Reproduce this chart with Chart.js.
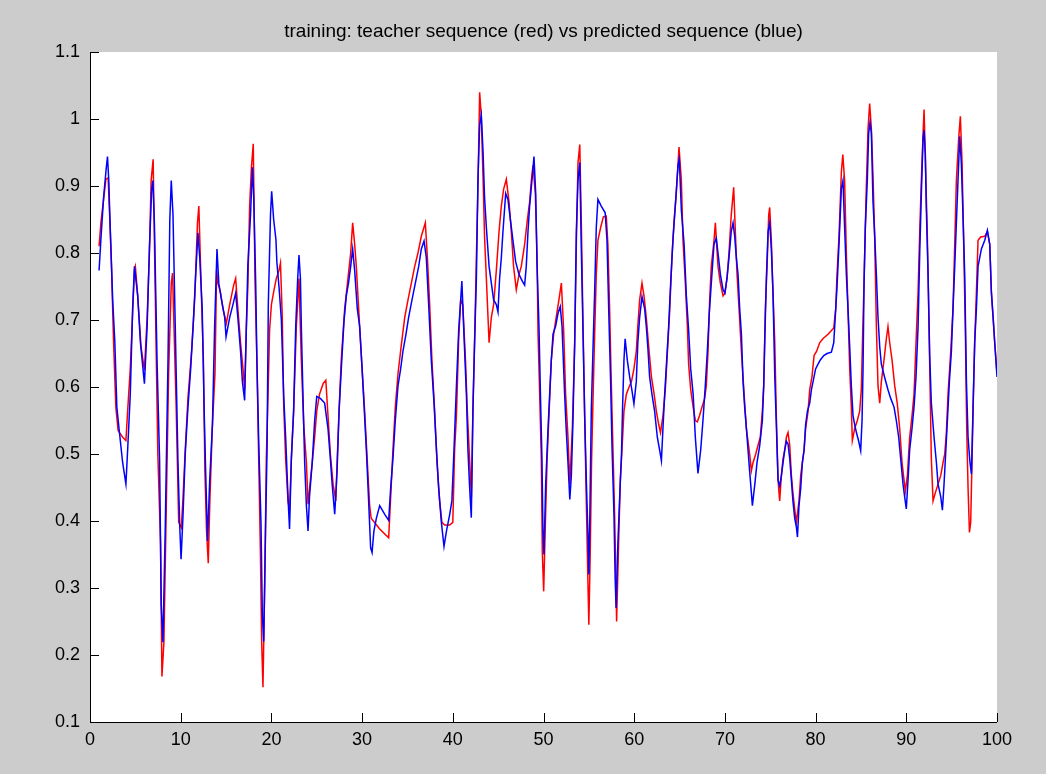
<!DOCTYPE html>
<html><head><meta charset="utf-8">
<script src="https://cdn.jsdelivr.net/npm/chart.js@4.4.1/dist/chart.umd.min.js"></script>
<style>html,body{margin:0;padding:0;background:#cccccc;overflow:hidden}#wrap{width:1046px;height:774px}</style>
</head><body><div id="wrap"><canvas id="c" width="1046" height="774"></canvas></div>
<script>
const chartTitle = "training: teacher sequence (red) vs predicted sequence (blue)";
const xTicks = [0,10,20,30,40,50,60,70,80,90,100];
const yTicks = [0.1,0.2,0.3,0.4,0.5,0.6,0.7,0.8,0.9,1.0,1.1];
const yTickLabels = ["0.1","0.2","0.3","0.4","0.5","0.6","0.7","0.8","0.9","1","1.1"];

// teacher sequence (red)
const teacherX = [1,1.2,1.5,1.75,2,2.2,2.37,2.6,2.85,3.1,3.6,3.96,4.15,4.44,4.7,4.9,5,5.26,5.63,6,6.3,6.55,6.74,6.96,7.2,7.48,7.78,7.93,8.15,8.4,8.67,8.96,9.1,9.26,9.5,9.78,10.07,10.26,10.5,10.8,11.2,11.56,11.85,12,12.3,12.5,12.67,12.85,13.04,13.2,13.48,13.78,13.96,14.1,14.37,14.66,15.03,15.4,15.84,16.06,16.3,16.6,16.87,17.05,17.24,17.4,17.6,17.8,18,18.2,18.4,18.6,18.78,18.93,19.07,19.26,19.44,19.63,19.8,20,20.25,20.54,20.84,21,21.2,21.35,21.57,21.83,22,22.2,22.45,22.75,23.04,23.3,23.56,23.86,24.04,24.3,24.5,24.77,25,25.3,25.7,26,26.24,26.5,26.8,27.1,27.24,27.46,27.7,28.08,28.44,28.74,28.96,29.18,29.36,29.62,30,30.28,30.58,30.83,31,31.94,32.93,33.15,33.4,33.66,33.96,34.3,34.7,35.06,35.43,35.8,36.16,36.53,36.97,37.2,37.45,37.7,38,38.26,38.55,38.8,39.1,39.66,40,40.2,40.4,40.65,40.87,41.1,41.4,41.6,42.05,42.22,42.4,42.6,42.77,42.96,43.14,43.33,43.5,43.7,43.9,44,44.25,44.5,44.8,45.1,45.35,45.6,45.9,46.2,46.45,46.7,47,47.3,47.55,47.92,48.18,48.47,48.66,48.84,49.1,49.28,49.4,49.58,49.76,49.87,50.02,50.17,50.4,50.6,50.86,51.12,51.4,51.7,51.97,52.22,52.44,52.7,52.9,53.18,53.44,53.62,53.8,54,54.17,54.36,54.54,54.72,54.9,55,55.15,55.3,55.45,55.64,55.82,56,56.3,56.6,56.92,57.1,57.3,57.47,57.66,57.84,58,58.06,58.28,58.47,58.65,58.87,59.13,59.4,59.7,59.97,60.23,60.4,60.6,60.86,61.08,61.33,61.6,61.9,62.2,62.44,62.7,62.9,63.17,63.43,63.72,63.9,64.16,64.38,64.64,64.94,65.2,65.38,65.64,65.86,66,66.23,66.5,66.74,66.96,67.2,67.47,67.77,67.95,68.14,68.32,68.5,68.8,68.95,69.06,69.24,69.5,69.8,70,70.23,70.45,70.7,70.97,71.15,71.34,71.56,71.82,72,72.18,72.37,72.55,72.73,72.92,73.1,73.4,73.65,73.9,74.13,74.28,74.46,74.65,74.83,74.94,75.12,75.3,75.5,75.67,75.86,76.04,76.23,76.41,76.6,76.78,76.96,77.15,77.33,77.5,77.7,77.88,78.17,78.36,78.54,78.73,78.9,79.17,79.35,79.6,79.83,80.1,80.45,80.8,81.4,82,82.22,82.36,82.58,82.84,83,83.2,83.39,83.57,83.76,83.94,84.05,84.31,84.6,84.86,85.04,85.19,85.34,85.56,85.78,85.96,86.15,86.33,86.52,86.7,86.88,87.07,87.25,87.54,87.8,87.98,88.17,88.43,88.72,89,89.27,89.53,89.75,89.9,90.12,90.37,90.63,90.85,91.11,91.3,91.48,91.66,91.85,91.96,92.1,92.32,92.47,92.62,92.76,92.95,93.2,93.5,93.8,94.05,94.24,94.42,94.6,94.9,95.15,95.34,95.52,95.78,95.96,96.15,96.33,96.51,96.66,96.81,96.96,97.1,97.25,97.4,97.54,97.73,97.91,98.2,98.65,98.94,99.2,99.38,99.57,99.75,100];
const teacherY = [0.81,0.845,0.88,0.91,0.912,0.845,0.78,0.666,0.57,0.535,0.525,0.52,0.564,0.627,0.71,0.775,0.78,0.736,0.66,0.625,0.704,0.8,0.908,0.94,0.736,0.5,0.366,0.168,0.219,0.414,0.621,0.755,0.77,0.69,0.57,0.398,0.39,0.436,0.506,0.583,0.653,0.736,0.845,0.87,0.73,0.64,0.474,0.385,0.337,0.423,0.538,0.62,0.775,0.755,0.742,0.717,0.695,0.723,0.752,0.762,0.717,0.666,0.627,0.596,0.69,0.749,0.87,0.928,0.963,0.755,0.64,0.493,0.36,0.219,0.152,0.302,0.493,0.589,0.685,0.723,0.742,0.762,0.774,0.785,0.704,0.576,0.493,0.43,0.415,0.493,0.564,0.69,0.762,0.64,0.544,0.487,0.425,0.461,0.487,0.525,0.564,0.589,0.605,0.61,0.557,0.5,0.455,0.43,0.487,0.564,0.64,0.717,0.762,0.8,0.845,0.813,0.78,0.717,0.627,0.564,0.487,0.423,0.404,0.388,0.375,0.436,0.506,0.57,0.62,0.66,0.704,0.73,0.755,0.78,0.8,0.825,0.845,0.793,0.723,0.64,0.564,0.487,0.43,0.398,0.394,0.394,0.398,0.506,0.557,0.672,0.73,0.723,0.64,0.564,0.435,0.57,0.666,0.793,0.896,1.04,1.004,0.915,0.825,0.762,0.698,0.666,0.704,0.723,0.774,0.832,0.87,0.895,0.91,0.876,0.832,0.78,0.745,0.768,0.78,0.813,0.845,0.876,0.908,0.931,0.889,0.8,0.679,0.589,0.493,0.353,0.295,0.378,0.493,0.557,0.64,0.679,0.704,0.73,0.755,0.685,0.589,0.525,0.455,0.538,0.666,0.813,0.934,0.962,0.845,0.691,0.557,0.43,0.308,0.245,0.35,0.49,0.576,0.679,0.768,0.819,0.838,0.854,0.855,0.813,0.71,0.608,0.506,0.41,0.302,0.25,0.366,0.461,0.506,0.564,0.589,0.599,0.608,0.627,0.653,0.691,0.73,0.755,0.736,0.704,0.66,0.615,0.589,0.564,0.544,0.532,0.557,0.596,0.666,0.71,0.793,0.845,0.889,0.958,0.908,0.819,0.755,0.691,0.634,0.596,0.57,0.55,0.548,0.557,0.57,0.583,0.602,0.653,0.73,0.78,0.819,0.845,0.819,0.78,0.755,0.736,0.74,0.762,0.8,0.857,0.898,0.832,0.768,0.717,0.653,0.615,0.576,0.538,0.519,0.5,0.475,0.487,0.5,0.513,0.525,0.564,0.602,0.717,0.78,0.857,0.868,0.819,0.742,0.666,0.557,0.461,0.43,0.468,0.493,0.506,0.525,0.532,0.513,0.468,0.442,0.417,0.398,0.43,0.468,0.487,0.506,0.538,0.564,0.596,0.615,0.647,0.653,0.666,0.672,0.679,0.688,0.717,0.768,0.825,0.921,0.947,0.908,0.8,0.717,0.627,0.57,0.52,0.538,0.55,0.564,0.596,0.679,0.755,0.883,0.985,1.023,0.985,0.915,0.819,0.691,0.602,0.576,0.608,0.64,0.672,0.69,0.666,0.64,0.602,0.576,0.538,0.487,0.461,0.445,0.468,0.525,0.557,0.589,0.679,0.742,0.832,0.908,0.979,1.014,0.94,0.825,0.717,0.602,0.493,0.43,0.442,0.455,0.468,0.487,0.5,0.532,0.589,0.653,0.717,0.813,0.908,0.972,1.004,0.934,0.813,0.685,0.538,0.449,0.383,0.398,0.493,0.589,0.666,0.742,0.819,0.824,0.825,0.832,0.813,0.742,0.704,0.666,0.62];

// predicted sequence (blue)
const predictedX = [1,1.2,1.5,1.8,1.93,2.07,2.2,2.5,2.74,2.96,3.2,3.6,3.96,4.15,4.44,4.7,4.9,5.26,5.56,6,6.3,6.55,6.8,6.93,7.1,7.4,7.67,7.85,8.04,8.3,8.6,8.8,8.96,9.15,9.4,9.7,9.9,10.04,10.26,10.5,10.8,11.1,11.4,11.63,11.9,12.1,12.37,12.6,12.74,12.96,13.2,13.5,13.74,14,14.2,14.5,14.85,15,15.4,15.76,16.06,16.3,16.6,16.8,17.05,17.24,17.4,17.7,17.9,18.05,18.27,18.4,18.6,18.85,19,19.15,19.37,19.52,19.66,19.9,20.03,20.25,20.5,20.6,20.84,21.1,21.35,21.57,21.83,22,22.2,22.45,22.68,22.9,23.04,23.2,23.3,23.5,23.67,23.86,24.04,24.2,24.5,24.77,25,25.4,25.87,26.24,26.5,26.7,26.98,27.24,27.46,27.7,28,28.26,28.5,28.74,28.96,29.18,29.47,29.73,30,30.2,30.47,30.72,30.94,31.1,31.3,31.57,31.94,32.5,32.93,33.15,33.4,33.66,33.96,34.25,34.5,34.84,35.13,35.5,35.87,36.24,36.53,36.83,37.08,37.34,37.63,37.93,38.2,38.44,38.74,39.03,39.3,39.66,39.9,40.13,40.4,40.65,40.87,41,41.24,41.5,41.67,41.86,42.04,42.22,42.4,42.6,42.77,42.96,43.14,43.33,43.5,43.7,44,44.25,44.5,44.8,44.98,45.16,45.35,45.53,45.83,46.08,46.34,46.63,46.93,47.3,47.66,47.92,48.1,48.29,48.47,48.77,48.95,49.14,49.28,49.5,49.65,49.83,49.94,50.05,50.24,50.5,50.68,50.86,51.05,51.34,51.6,51.85,52.04,52.15,52.33,52.5,52.7,52.9,53.07,53.25,53.44,53.62,53.8,54,54.17,54.36,54.54,54.72,54.9,55,55.1,55.27,55.45,55.64,55.82,56,56.37,56.8,57,57.2,57.4,57.55,57.77,57.9,58,58.2,58.4,58.6,58.72,58.87,59,59.24,59.5,59.75,59.97,60.23,60.4,60.6,60.86,61.15,61.33,61.5,61.7,61.96,62.25,62.55,62.8,63,63.17,63.36,63.58,63.8,64.02,64.27,64.53,64.83,64.97,65.2,65.5,65.75,66,66.23,66.5,66.74,67.03,67.33,67.58,67.84,68.06,68.28,68.5,68.8,69.05,69.24,69.5,69.8,70,70.23,70.45,70.7,70.9,71.08,71.26,71.45,71.63,71.82,72,72.18,72.37,72.55,72.73,72.92,73.03,73.3,73.54,73.84,74.13,74.28,74.39,74.57,74.76,74.94,75.12,75.3,75.5,75.67,75.86,76.04,76.23,76.41,76.6,76.78,76.96,77.15,77.33,77.5,77.7,77.88,78,78.17,78.36,78.54,78.73,78.9,79.1,79.35,79.54,79.72,80,80.27,80.5,80.9,81.26,81.74,82,82.22,82.36,82.58,82.84,83.02,83.2,83.39,83.57,83.76,83.94,84.13,84.31,84.5,84.75,84.97,85.12,85.23,85.34,85.48,85.7,85.85,86,86.15,86.33,86.52,86.7,86.88,87.07,87.25,87.6,87.98,88.28,88.65,88.9,89.16,89.38,89.64,89.82,90,90.19,90.37,90.63,90.85,91.07,91.3,91.48,91.66,91.85,91.96,92.1,92.2,92.4,92.58,92.76,93.06,93.32,93.5,93.8,93.98,94.16,94.31,94.53,94.75,94.97,95.15,95.34,95.52,95.7,95.89,96.07,96.26,96.44,96.63,96.81,97,97.18,97.36,97.54,97.73,97.91,98.28,98.65,98.94,99.2,99.38,99.57,99.75,100];
const predictedY = [0.774,0.82,0.883,0.928,0.944,0.908,0.85,0.73,0.666,0.57,0.538,0.487,0.455,0.506,0.589,0.717,0.78,0.736,0.666,0.605,0.69,0.806,0.896,0.908,0.845,0.634,0.493,0.276,0.219,0.391,0.64,0.85,0.908,0.857,0.69,0.487,0.39,0.343,0.41,0.5,0.57,0.627,0.698,0.762,0.83,0.793,0.717,0.557,0.48,0.37,0.461,0.544,0.69,0.806,0.755,0.73,0.704,0.675,0.704,0.723,0.74,0.704,0.653,0.608,0.58,0.69,0.78,0.857,0.928,0.883,0.755,0.64,0.519,0.398,0.26,0.22,0.398,0.506,0.723,0.857,0.892,0.85,0.82,0.787,0.749,0.7,0.589,0.525,0.436,0.388,0.493,0.564,0.69,0.762,0.797,0.762,0.69,0.576,0.487,0.423,0.385,0.436,0.487,0.55,0.586,0.583,0.576,0.538,0.493,0.455,0.41,0.474,0.564,0.625,0.698,0.736,0.755,0.78,0.806,0.774,0.717,0.69,0.627,0.576,0.506,0.43,0.36,0.353,0.385,0.404,0.423,0.41,0.401,0.449,0.493,0.55,0.602,0.627,0.653,0.679,0.704,0.73,0.755,0.78,0.806,0.818,0.793,0.723,0.64,0.576,0.506,0.449,0.398,0.362,0.385,0.41,0.43,0.506,0.602,0.685,0.73,0.758,0.675,0.589,0.506,0.449,0.405,0.564,0.666,0.762,0.908,0.991,1.006,0.953,0.883,0.838,0.78,0.755,0.73,0.723,0.712,0.762,0.793,0.832,0.889,0.88,0.851,0.819,0.787,0.768,0.758,0.752,0.78,0.832,0.87,0.915,0.944,0.889,0.787,0.691,0.596,0.493,0.385,0.35,0.455,0.538,0.589,0.64,0.679,0.691,0.71,0.72,0.691,0.653,0.589,0.538,0.487,0.432,0.468,0.55,0.666,0.832,0.908,0.935,0.806,0.679,0.557,0.461,0.38,0.32,0.4,0.564,0.653,0.742,0.838,0.88,0.87,0.86,0.819,0.71,0.608,0.513,0.41,0.315,0.27,0.366,0.436,0.5,0.57,0.64,0.672,0.64,0.615,0.595,0.575,0.608,0.666,0.704,0.735,0.717,0.691,0.66,0.615,0.589,0.564,0.525,0.506,0.49,0.538,0.589,0.64,0.691,0.755,0.819,0.87,0.931,0.94,0.864,0.813,0.736,0.685,0.627,0.589,0.525,0.471,0.506,0.55,0.602,0.653,0.71,0.755,0.813,0.822,0.8,0.768,0.745,0.74,0.762,0.793,0.832,0.845,0.825,0.793,0.768,0.717,0.679,0.608,0.57,0.538,0.506,0.474,0.442,0.423,0.455,0.487,0.513,0.55,0.602,0.666,0.762,0.832,0.845,0.806,0.742,0.615,0.544,0.461,0.452,0.468,0.487,0.506,0.519,0.515,0.493,0.461,0.43,0.404,0.391,0.376,0.423,0.449,0.487,0.506,0.544,0.564,0.576,0.596,0.608,0.627,0.634,0.64,0.647,0.65,0.652,0.666,0.717,0.749,0.813,0.896,0.908,0.838,0.768,0.717,0.66,0.602,0.557,0.544,0.532,0.519,0.505,0.55,0.627,0.755,0.838,0.908,0.979,0.995,0.979,0.876,0.825,0.768,0.704,0.66,0.634,0.615,0.596,0.583,0.57,0.55,0.525,0.493,0.455,0.436,0.418,0.461,0.506,0.538,0.57,0.615,0.691,0.8,0.889,0.972,0.983,0.947,0.87,0.768,0.647,0.576,0.525,0.487,0.455,0.436,0.416,0.455,0.493,0.55,0.608,0.653,0.717,0.78,0.845,0.908,0.974,0.934,0.851,0.768,0.608,0.525,0.49,0.47,0.57,0.666,0.717,0.78,0.806,0.819,0.834,0.813,0.742,0.704,0.666,0.615];

const toPts = (xs, ys) => xs.map((x, i) => ({x: x, y: ys[i]}));

const bgPlugin = {
  id: 'bg',
  beforeDraw(chart) {
    const {ctx, chartArea: a} = chart;
    ctx.save();
    ctx.fillStyle = '#cccccc';
    ctx.fillRect(0, 0, chart.width, chart.height);
    ctx.fillStyle = '#ffffff';
    ctx.fillRect(a.left, a.top, a.right - a.left, a.bottom - a.top);
    ctx.restore();
  }
};
const axesPlugin = {
  id: 'axesIn',
  afterDatasetsDraw(chart) {
    const {ctx, chartArea: a, scales} = chart;
    ctx.save();
    ctx.strokeStyle = '#000000';
    ctx.lineWidth = 1;
    ctx.beginPath();
    ctx.moveTo(a.left + 0.5, a.top);
    ctx.lineTo(a.left + 0.5, a.bottom + 0.5);
    ctx.lineTo(a.right, a.bottom + 0.5);
    xTicks.forEach(v => {
      const px = Math.round(scales.x.getPixelForValue(v)) + 0.5;
      ctx.moveTo(px, a.bottom);
      ctx.lineTo(px, a.bottom - 9);
    });
    yTicks.forEach(v => {
      const py = Math.round(scales.y.getPixelForValue(v)) + 0.5;
      ctx.moveTo(a.left, py);
      ctx.lineTo(a.left + 9, py);
    });
    ctx.stroke();
    ctx.restore();
  }
};

const tickFont = {family: "'Liberation Sans', Arial, sans-serif", size: 18};

new Chart(document.getElementById('c'), {
  type: 'line',
  data: {
    datasets: [
      {label: 'teacher', data: toPts(teacherX, teacherY), borderColor: '#ff0000', borderWidth: 1.5, pointRadius: 0, tension: 0, fill: false, order: 2},
      {label: 'predicted', data: toPts(predictedX, predictedY), borderColor: '#0000ff', borderWidth: 1.5, pointRadius: 0, tension: 0, fill: false, order: 1}
    ]
  },
  options: {
    responsive: false,
    animation: false,
    devicePixelRatio: 1,
    layout: {padding: {left: 0, right: 49, top: 0, bottom: 0}},
    plugins: {
      legend: {display: false},
      tooltip: {enabled: false},
      title: {
        display: true, text: chartTitle, fullSize: false, color: '#000000',
        font: {family: "'Liberation Sans', Arial, sans-serif", size: 19, weight: 'normal'},
        padding: {top: 20, bottom: 9.2}
      }
    },
    scales: {
      x: {
        type: 'linear', min: 0, max: 100,
        afterBuildTicks: s => { s.ticks = xTicks.map(v => ({value: v})); },
        afterFit: s => { s.height = 52; },
        grid: {display: false, drawTicks: false},
        border: {display: false},
        ticks: {color: '#000000', font: tickFont, padding: 7, maxRotation: 0, autoSkip: false, callback: v => String(v)}
      },
      y: {
        type: 'linear', min: 0.1, max: 1.1,
        afterBuildTicks: s => { s.ticks = yTicks.map(v => ({value: v})); },
        afterFit: s => { s.width = 90; },
        grid: {display: false, drawTicks: false},
        border: {display: false},
        ticks: {color: '#000000', font: tickFont, padding: 10, autoSkip: false,
          callback: (v, i) => yTickLabels[i]}
      }
    }
  },
  plugins: [bgPlugin, axesPlugin]
});
</script>
</body></html>
